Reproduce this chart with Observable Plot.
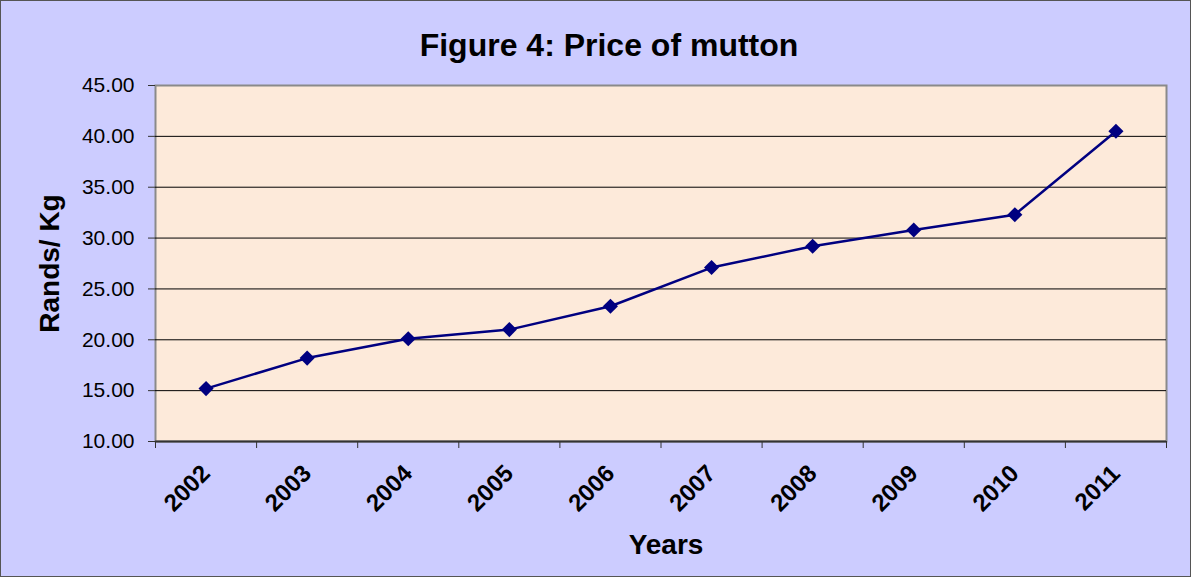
<!DOCTYPE html>
<html><head><meta charset="utf-8">
<script src="https://cdn.jsdelivr.net/npm/d3@7"></script>
<script src="https://cdn.jsdelivr.net/npm/@observablehq/plot@0.6"></script>
<style>
body{margin:0;background:#fff}
#chart svg{display:block;outline:1px solid #555;outline-offset:-1px}
</style>
</head><body><div id="chart"></div>
<script>
const years = [2002, 2003, 2004, 2005, 2006, 2007, 2008, 2009, 2010, 2011];
const prices = [15.2, 18.2, 20.1, 21.0, 23.3, 27.1, 29.2, 30.8, 32.3, 40.5];
const yTicks = [10, 15, 20, 25, 30, 35, 40, 45];
const gridTicks = [15, 20, 25, 30, 35, 40];
const titleText = "Figure 4: Price of mutton";
const yLabel = "Rands/ Kg";
const xLabel = "Years";

const data = years.map((year, i) => ({year, price: prices[i]}));
const bounds = years.map(y => y - 0.5).concat([years[years.length - 1] + 0.5]);

const chart = Plot.plot({
  width: 1191, height: 577,
  marginLeft: 155, marginRight: 25, marginTop: 85, marginBottom: 136,
  style: {background: "#CCCCFF", fontFamily: "'Liberation Sans', Arial, sans-serif", color: "#000", overflow: "visible"},
  x: {domain: [bounds[0], bounds[bounds.length - 1]]},
  y: {domain: [10, 45]},
  marks: [
    Plot.frame({fill: "#FDEADA", stroke: "#8A8A8A", strokeWidth: 2}),
    Plot.ruleY(gridTicks, {stroke: "#000", strokeWidth: 1}),
    Plot.ruleY([10], {stroke: "#333", strokeWidth: 2}),
    Plot.axisY({ticks: yTicks, tickFormat: d3.format(".2f"), tickSize: 7, tickPadding: 14, fontSize: 21, label: null, stroke: "#333"}),
    Plot.axisX({ticks: bounds, tickFormat: () => "", tickSize: 7, label: null, stroke: "#333"}),
    Plot.text(years, {x: d => d, frameAnchor: "bottom", dy: 28, rotate: -45, textAnchor: "end", lineAnchor: "middle", text: d => String(d), fontSize: 24, fontWeight: "bold"}),
    Plot.line(data, {x: "year", y: "price", stroke: "#000080", strokeWidth: 2.5}),
    Plot.dot(data, {x: "year", y: "price", symbol: "diamond2", r: 6.8, fill: "#000080", stroke: "none"}),
    Plot.text([titleText], {frameAnchor: "top", dx: -52, dy: -40, textAnchor: "middle", lineAnchor: "middle", text: d => d, fontSize: 32, fontWeight: "bold"}),
    Plot.text([yLabel], {frameAnchor: "left", dx: -105, rotate: -90, textAnchor: "middle", lineAnchor: "middle", text: d => d, fontSize: 28, fontWeight: "bold"}),
    Plot.text([xLabel], {frameAnchor: "bottom", dx: 5, dy: 104, textAnchor: "middle", lineAnchor: "middle", text: d => d, fontSize: 28, fontWeight: "bold"})
  ]
});
document.getElementById("chart").appendChild(chart);
</script>
</body></html>
